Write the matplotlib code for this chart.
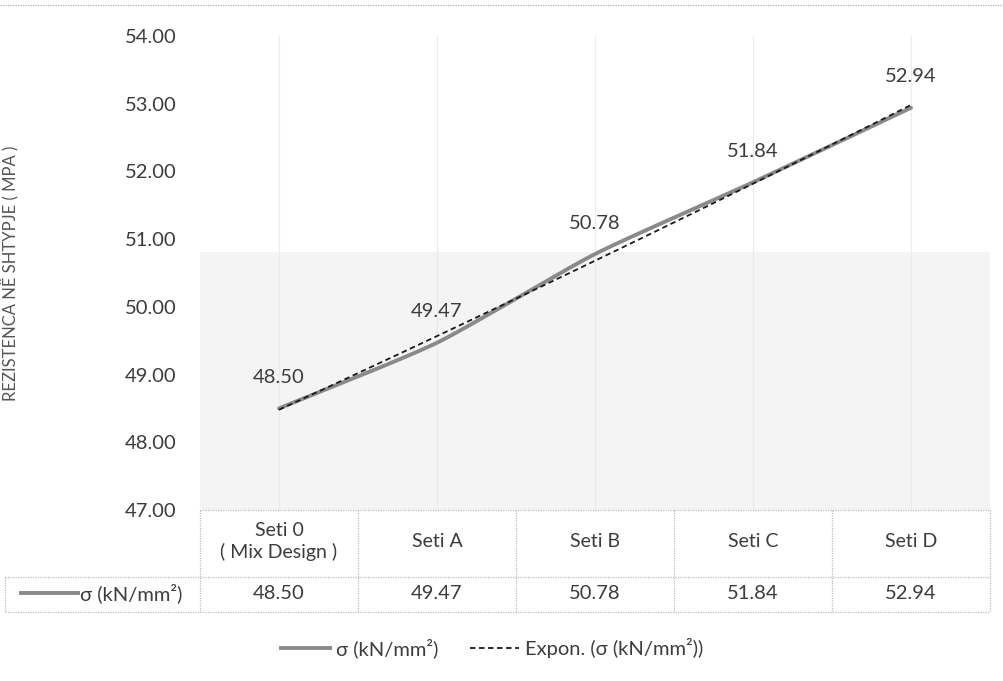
import numpy as np
import matplotlib
matplotlib.use("Agg")
import matplotlib.pyplot as plt
from matplotlib.lines import Line2D
from matplotlib.patches import Rectangle
import matplotlib.transforms as mtransforms

# ---- data ----
categories = ["Seti 0\n( Mix Design )", "Seti A", "Seti B", "Seti C", "Seti D"]
values = [48.50, 49.47, 50.78, 51.84, 52.94]
value_labels = ["48.50", "49.47", "50.78", "51.84", "52.94"]
y_ticks = [47, 48, 49, 50, 51, 52, 53, 54]
series_name = "σ (kN/mm²)"
trend_name = "Expon. (σ (kN/mm²))"
y_label = "REZISTENCA NË SHTYPJE ( MPA )"

FONT = ["Lato", "DejaVu Sans"]
plt.rcParams["font.family"] = FONT
TXT = "#3c3c3c"
DOTTED = (0, (1, 1))
DASHED = (0, (3, 2))
FS = 14.5

fig = plt.figure(figsize=(10.04, 6.81), dpi=100)
ax = fig.add_axes([200/1004, 1 - 510/681, 790/1004, (510 - 36)/681])

x = np.arange(len(values))
y = np.array(values)


def smooth(xp, yp, n=40):
    P = np.column_stack([xp, yp]).astype(float)
    P = np.vstack([P[0] - (P[1] - P[0]), P, P[-1] + (P[-1] - P[-2])])
    out = []
    t = np.linspace(0, 1, n)
    for i in range(1, len(P) - 2):
        p0, p1, p2, p3 = P[i-1], P[i], P[i+1], P[i+2]
        m1 = (p2 - p0) / 2 * 0.6
        m2 = (p3 - p1) / 2 * 0.6
        h00 = 2*t**3 - 3*t**2 + 1
        h10 = t**3 - 2*t**2 + t
        h01 = -2*t**3 + 3*t**2
        h11 = t**3 - t**2
        seg = h00[:, None]*p1 + h10[:, None]*m1 + h01[:, None]*p2 + h11[:, None]*m2
        out.append(seg if i == 1 else seg[1:])
    s = np.vstack(out)
    return s[:, 0], s[:, 1]


sx, sy = smooth(x, y)

xi = x + 1
b, lna = np.polyfit(xi, np.log(y), 1)
tx = np.linspace(x[0], x[-1], 200)
ty = np.exp(lna) * np.exp(b * (tx + 1))

# light scanned background patch in the lower plot area
ax.add_patch(Rectangle((0, 0), 1, 0.545, transform=ax.transAxes, facecolor="#f4f4f4", edgecolor="none", zorder=0))

for xv in x:
    ax.axvline(xv, color="#ebebeb", lw=0.8, zorder=1)

ax.plot(sx, sy, color="#8a8a8a", lw=2.8, solid_capstyle="round", zorder=3, label=series_name)
ax.plot(tx, ty, color="#1a1a1a", lw=1.3, ls=DASHED, zorder=4, label=trend_name)

for xv, yv, lab in zip(x, y, value_labels):
    ax.annotate(lab, (xv, yv), xytext=(0, 31), textcoords="offset pixels", ha="center", va="center", fontsize=FS, color=TXT)

ax.set_xlim(-0.5, len(values) - 0.5)
ax.set_ylim(min(y_ticks), max(y_ticks))
ax.set_yticks(y_ticks)
ax.set_yticklabels([f"{t:.2f}" for t in y_ticks], fontsize=FS, color=TXT)
ax.set_xticks([])
ax.tick_params(axis="y", length=0, pad=17)
for sp in ax.spines.values():
    sp.set_visible(False)
ax.set_facecolor("none")
ax.set_ylabel(y_label, fontsize=12, color="#555555")
ax.yaxis.set_label_coords((19 - 200) / 790, 0.5)

# ---- data table ----
bt = mtransforms.blended_transform_factory(ax.transData, fig.transFigure)
ftr = fig.transFigure


def fy(py):
    return 1 - py / 681


grid_kw = dict(color="#bdbdbd", lw=0.9, ls=DOTTED)

y_top, y_mid, y_bot = fy(510), fy(577), fy(612)
left_edge = 5 / 1004
x_left, x_right = ax.get_xlim()

for yy in (y_top, y_mid, y_bot):
    fig.add_artist(Line2D([x_left, x_right], [yy, yy], transform=bt, **grid_kw))
for yy in (y_mid, y_bot):
    fig.add_artist(Line2D([left_edge, 200/1004], [yy, yy], transform=ftr, **grid_kw))
fig.add_artist(Line2D([left_edge, left_edge], [y_mid, y_bot], transform=ftr, **grid_kw))
for xb in np.arange(len(values) + 1) - 0.5:
    fig.add_artist(Line2D([xb, xb], [y_top, y_bot], transform=bt, **grid_kw))

for xv, cat, lab in zip(x, categories, value_labels):
    fig.text(xv, (y_top + y_mid) / 2 + 0.003, cat, transform=bt, ha="center", va="center", fontsize=FS - 0.5, color=TXT, linespacing=1.25)
    fig.text(xv, (y_mid + y_bot) / 2 + 0.002, lab, transform=bt, ha="center", va="center", fontsize=FS, color=TXT)

fig.add_artist(Line2D([21/1004, 78/1004], [fy(593), fy(593)], transform=ftr, color="#8a8a8a", lw=2.8))
fig.text(80/1004, (y_mid + y_bot) / 2 + 0.002, series_name, ha="left", va="center", fontsize=FS, color=TXT)

# ---- legend ----
h1 = Line2D([], [], color="#8a8a8a", lw=2.8)
h2 = Line2D([], [], color="#1a1a1a", lw=1.3, ls=DASHED)
fig.legend([h1, h2], [series_name, trend_name], loc="center", bbox_to_anchor=(492/1004, fy(648)), ncol=2, frameon=False, fontsize=FS, labelcolor=TXT, handlelength=2.4, columnspacing=1.6, handletextpad=0.3)

fig.add_artist(Line2D([0, 1], [fy(5), fy(5)], transform=ftr, color="#b0b0b0", lw=0.9, ls=DOTTED))

fig.savefig("out.png", dpi=100)
